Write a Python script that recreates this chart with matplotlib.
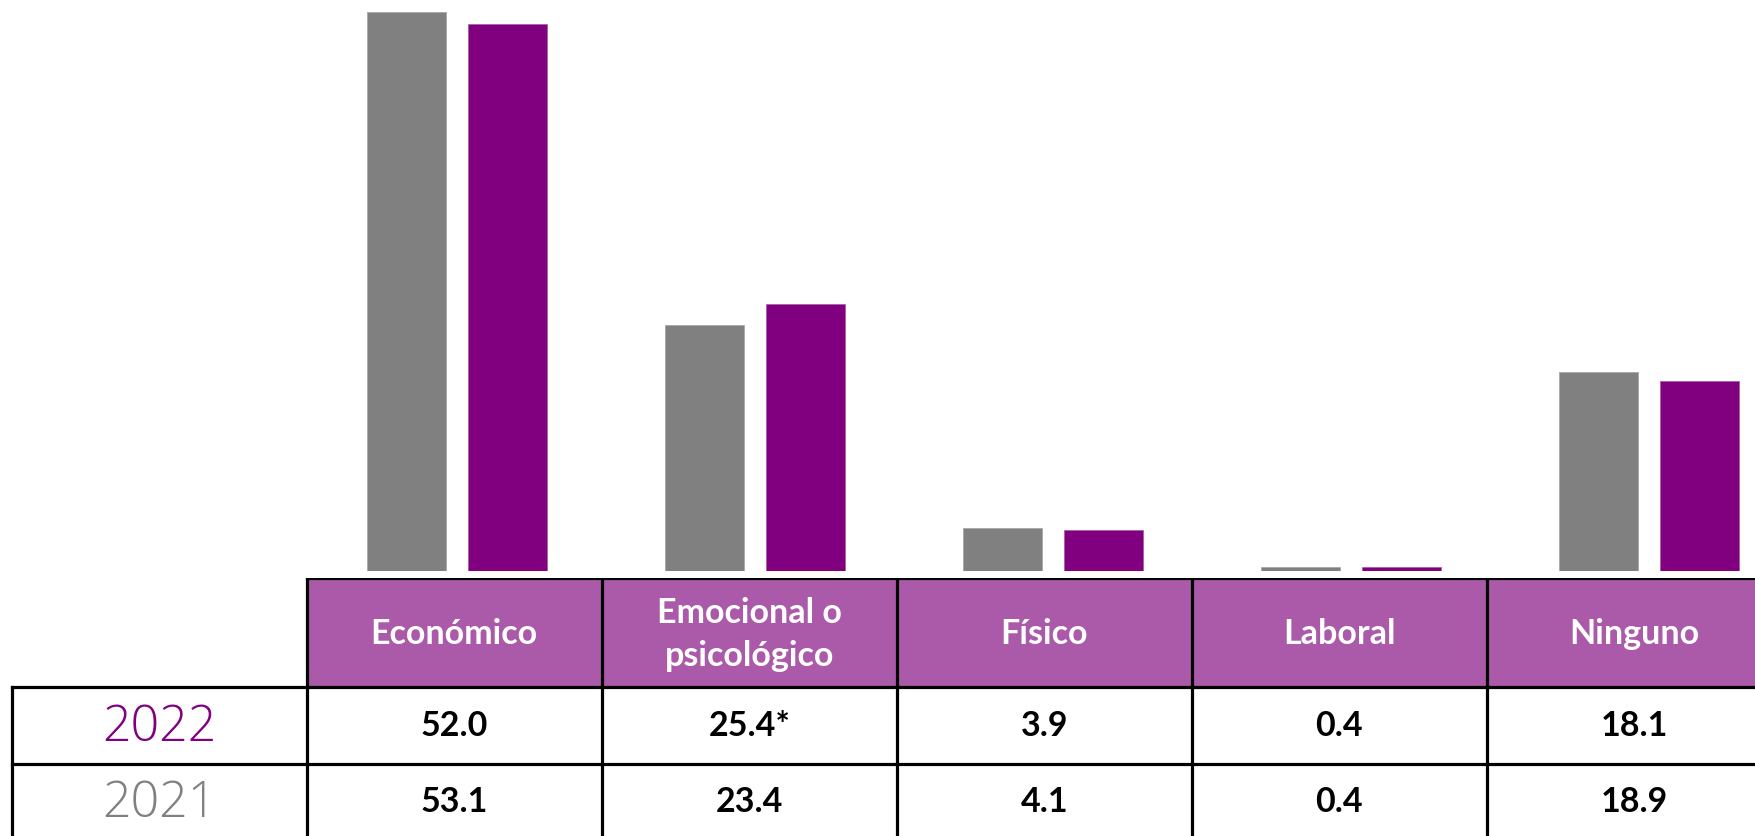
import matplotlib
matplotlib.use("Agg")
import matplotlib.pyplot as plt
from matplotlib.patches import Rectangle
import numpy as np

categories = ["Económico", "Emocional o\npsicológico", "Físico", "Laboral", "Ninguno"]
values_2022 = [52.0, 25.4, 3.9, 0.4, 18.1]
values_2021 = [53.1, 23.4, 4.1, 0.4, 18.9]
labels_2022 = ["52.0", "25.4*", "3.9", "0.4", "18.1"]
labels_2021 = ["53.1", "23.4", "4.1", "0.4", "18.9"]
years = ["2022", "2021"]

GRAY = "#808080"
PURPLE = "#800080"
HEADER = "#AB59A9"

W, H = 1756, 837
fig = plt.figure(figsize=(W / 100, H / 100), dpi=100)

# ---- bars (pixel geometry -> axes limits) ----
bar0_px = 457.0
bar_step = 298.0
base_px = 572.0
px_per_unit = 10.52

ax = fig.add_axes([0, (H - base_px) / H, 1, base_px / H])
ax.set_xlim(-bar0_px / bar_step, (W - bar0_px) / bar_step)
ax.set_ylim(0, base_px / px_per_unit)
ax.axis("off")

x = np.arange(len(categories))
bw = 79 / bar_step
off = 50.3 / bar_step
ax.bar(x - off, values_2021, width=bw, color=GRAY, edgecolor="#a8a8a8", linewidth=0.6)
ax.bar(x + off, values_2022, width=bw, color=PURPLE, edgecolor="#a860a8", linewidth=0.6)

# ---- table ----
col_px = 295.0
col0_px = 306.7 + col_px / 2
t_top, t_bot = 579.0, 842.0
tab = fig.add_axes([0, (H - t_bot) / H, 1, (t_bot - t_top) / H])
tab.set_xlim(-col0_px / col_px, (W - col0_px) / col_px)
tab.set_ylim(t_bot - t_top, 0)
tab.axis("off")

hdr = 688 - t_top
r1 = 765 - t_top
r2 = t_bot - t_top
n = len(categories)
lw = 2.3
for i in range(n):
    tab.add_patch(Rectangle((i - 0.5, 0), 1, hdr, facecolor=HEADER, edgecolor="none"))

kw = dict(color="black", lw=lw, solid_capstyle="projecting")
tab.plot([-0.5, n - 0.5], [0, 0], **kw)
for yy in (hdr, r1, r2):
    tab.plot([-1.5, n - 0.5], [yy, yy], **kw)
tab.plot([-1.5, -1.5], [hdr, r2], **kw)
for i in range(n + 1):
    tab.plot([i - 0.5, i - 0.5], [0, r2], **kw)

hfont = dict(family=["Lato", "DejaVu Sans"], fontweight="bold", fontsize=24.5)
for i, c in enumerate(categories):
    tab.text(i, hdr / 2 + 1, c, ha="center", va="center", color="white",
             linespacing=1.45, **hfont)
for i in range(n):
    tab.text(i, (hdr + r1) / 2, labels_2022[i], ha="center", va="center",
             color="black", **hfont)
    tab.text(i, (r1 + r2) / 2 - 1, labels_2021[i], ha="center", va="center",
             color="black", **hfont)

yfont = dict(family=["Open Sans", "Lato", "DejaVu Sans"], fontweight="light", fontsize=36)
tab.text(-1.0, (hdr + r1) / 2 + 2, years[0], ha="center", va="center", color=PURPLE, **yfont)
tab.text(-1.0, (r1 + r2) / 2 + 1, years[1], ha="center", va="center", color=GRAY, **yfont)

fig.savefig("out.png", dpi=100, facecolor="white")
